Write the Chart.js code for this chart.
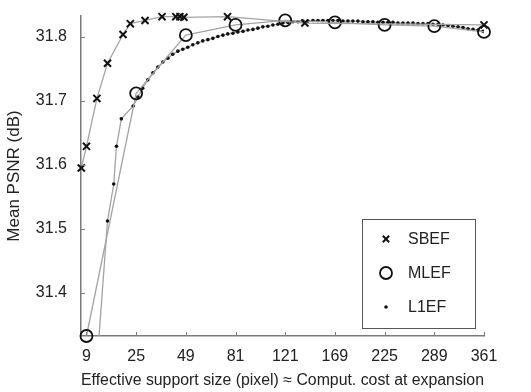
<!DOCTYPE html>
<html>
<head>
<meta charset="utf-8">
<script src="https://cdn.jsdelivr.net/npm/chart.js@4"></script>
<style>
  html, body { margin: 0; padding: 0; background: #fff; }
  #wrap { width: 531px; height: 392px; }
</style>
</head>
<body>
<div id="wrap"><canvas id="psnrChart" width="531" height="392"></canvas></div>
<script>
// x values are effective support sizes (pixels); the axis is spaced by sqrt(size)
const xTickLabels = [9, 25, 49, 81, 121, 169, 225, 289, 361];
const yTickValues = [31.4, 31.5, 31.6, 31.7, 31.8];

const sbefSize = [7.8, 9, 11.7, 14.8, 20.0, 22.7, 28.7, 36.5, 43.5, 45.7, 47.9, 75.3, 139, 361];
const sbefPsnr = [31.595, 31.629, 31.704, 31.759, 31.804, 31.821, 31.826, 31.832, 31.832, 31.832, 31.831, 31.832, 31.822, 31.819];

const mlefSize = [9, 25, 49, 81, 121, 169, 225, 289, 361];
const mlefPsnr = [31.332, 31.712, 31.803, 31.819, 31.826, 31.823, 31.819, 31.817, 31.808];

const l1efSize = [12.0, 14.8, 16.8, 17.7, 19.4, 23.8, 25.7, 27.7, 29.9, 32.2, 34.5, 36.9, 39.4, 41.9, 44.6,
  47.3, 50.1, 53.0, 56.0, 59.0, 62.2, 65.4, 68.7, 72.1, 75.5, 79.1, 82.7, 86.5, 90.2, 94.1, 98.0, 102.0,
  106.1, 110.3, 114.6, 118.9, 123.4, 127.9, 132.5, 137.2, 141.9, 146.7, 151.7, 156.7, 161.8, 166.9, 172.2,
  177.5, 182.9, 188.3, 193.9, 199.6, 205.3, 211.1, 217.0, 223.0, 229.0, 235.2, 241.4, 247.7, 254.1, 260.6,
  267.1, 273.7, 280.4, 287.2, 294.0, 301.0, 308.0, 315.1, 322.4, 329.6, 337.0, 344.4, 351.9, 359.6];
const l1efPsnr = [31.310, 31.512, 31.570, 31.629, 31.672, 31.692, 31.706, 31.720, 31.733, 31.744, 31.753, 31.761, 31.767, 31.773, 31.778,
  31.781, 31.784, 31.788, 31.791, 31.794, 31.796, 31.798, 31.801, 31.803, 31.805, 31.806, 31.808, 31.809, 31.811, 31.812, 31.814, 31.816,
  31.817, 31.819, 31.820, 31.822, 31.823, 31.824, 31.824, 31.825, 31.825, 31.826, 31.826, 31.826, 31.826, 31.826, 31.826,
  31.825, 31.825, 31.825, 31.825, 31.824, 31.824, 31.824, 31.823, 31.823, 31.823, 31.823, 31.822, 31.822, 31.822, 31.822,
  31.821, 31.821, 31.821, 31.820, 31.820, 31.819, 31.818, 31.817, 31.816, 31.815, 31.813, 31.812, 31.811, 31.809];

const FONT = 'Liberation Sans, Arial, sans-serif';
const LINE_GRAY = '#a3a3a3';
const AXIS_GRAY = '#7a7a7a';
const LEGEND_ROWS = [239, 273, 307];

function toPoints(sizes, vals) {
  return sizes.map((s, i) => ({ x: Math.sqrt(s), y: vals[i] }));
}

// inward tick marks, like the matlab original
function drawInwardTicks(chart) {
  const ctx = chart.ctx;
  const xs = chart.scales.x, ys = chart.scales.y;
  const area = chart.chartArea;
  ctx.save();
  ctx.strokeStyle = AXIS_GRAY;
  ctx.lineWidth = 1;
  xTickLabels.forEach(v => {
    const px = Math.round(xs.getPixelForValue(Math.sqrt(v))) + 0.5;
    ctx.beginPath();
    ctx.moveTo(px, area.bottom);
    ctx.lineTo(px, area.bottom - 4);
    ctx.stroke();
  });
  yTickValues.forEach(v => {
    const py = Math.round(ys.getPixelForValue(v)) + 0.5;
    ctx.beginPath();
    ctx.moveTo(area.left, py);
    ctx.lineTo(area.left + 4, py);
    ctx.stroke();
  });
  ctx.restore();
}

// boxed legend in the lower right of the plot
function drawBoxLegend(chart) {
  const ctx = chart.ctx;
  ctx.save();
  ctx.fillStyle = '#fff';
  ctx.fillRect(362, 219, 113, 109);
  ctx.strokeStyle = '#555';
  ctx.lineWidth = 1;
  ctx.strokeRect(362.5, 219.5, 113, 109);

  chart.data.datasets.forEach((ds, i) => {
    ctx.save();
    ctx.strokeStyle = '#111';
    ctx.fillStyle = ds.legendFill;
    ctx.lineWidth = ds.pointBorderWidth;
    Chart.helpers.drawPoint(ctx, {
      pointStyle: ds.pointStyle,
      radius: ds.legendRadius,
      borderWidth: ds.pointBorderWidth
    }, 386, LEGEND_ROWS[i]);
    ctx.restore();
  });

  ctx.fillStyle = '#222';
  ctx.font = '16px ' + FONT;
  ctx.textBaseline = 'middle';
  chart.data.datasets.forEach((ds, i) => ctx.fillText(ds.label, 408, LEGEND_ROWS[i] + 1));
  ctx.restore();
}

new Chart(document.getElementById('psnrChart'), {
  type: 'line',
  data: {
    datasets: [
      {
        label: 'SBEF',
        data: toPoints(sbefSize, sbefPsnr),
        borderColor: LINE_GRAY,
        borderWidth: 1.3,
        pointStyle: 'crossRot',
        pointRadius: 5,
        pointBorderWidth: 2,
        pointBorderColor: '#111',
        legendRadius: 4.5,
        legendFill: 'rgba(0,0,0,0)',
        clip: false
      },
      {
        label: 'MLEF',
        data: toPoints(mlefSize, mlefPsnr),
        borderColor: LINE_GRAY,
        borderWidth: 1.3,
        pointStyle: 'circle',
        pointRadius: 6,
        pointBorderWidth: 1.8,
        pointBorderColor: '#111',
        pointBackgroundColor: 'rgba(0,0,0,0)',
        legendRadius: 6,
        legendFill: 'rgba(0,0,0,0)',
        clip: false
      },
      {
        label: 'L1EF',
        data: toPoints(l1efSize, l1efPsnr),
        borderColor: LINE_GRAY,
        borderWidth: 1.3,
        pointStyle: 'circle',
        pointRadius: 1.8,
        pointBorderWidth: 0,
        pointBackgroundColor: '#111',
        legendRadius: 1.8,
        legendFill: '#111',
        clip: 0
      }
    ]
  },
  options: {
    responsive: false,
    animation: false,
    devicePixelRatio: 1,
    layout: { padding: { left: 0, right: 47, top: 16, bottom: 0 } },
    plugins: {
      legend: { display: false },
      tooltip: { enabled: false }
    },
    scales: {
      x: {
        type: 'linear',
        min: 2.78,
        max: 19,
        grid: { display: false },
        border: { color: AXIS_GRAY, width: 1.5 },
        afterBuildTicks: s => { s.ticks = xTickLabels.map(v => ({ value: Math.sqrt(v) })); },
        afterFit: s => { s.height = 56; },
        ticks: {
          autoSkip: false,
          maxRotation: 0,
          padding: 3,
          color: '#222',
          font: { family: FONT, size: 16 },
          callback: v => String(Math.round(v * v))
        },
        title: {
          display: true,
          text: 'Effective support size (pixel) ≈ Comput. cost at expansion',
          color: '#222',
          font: { family: FONT, size: 16 },
          padding: { top: 0, bottom: 2 }
        }
      },
      y: {
        type: 'linear',
        min: 31.332,
        max: 31.833,
        grid: { display: false },
        border: { color: AXIS_GRAY, width: 1.5 },
        afterBuildTicks: s => { s.ticks = yTickValues.map(v => ({ value: v })); },
        afterFit: s => { s.width = 81; },
        ticks: {
          padding: 6,
          color: '#222',
          font: { family: FONT, size: 16 },
          callback: v => v.toFixed(1)
        },
        title: {
          display: true,
          text: 'Mean PSNR (dB)',
          color: '#222',
          font: { family: FONT, size: 17 },
          padding: { top: 4, bottom: 4 }
        }
      }
    }
  },
  plugins: [
    { id: 'inwardTicks', afterDraw: drawInwardTicks },
    { id: 'boxLegend', afterDraw: drawBoxLegend }
  ]
});
</script>
</body>
</html>
